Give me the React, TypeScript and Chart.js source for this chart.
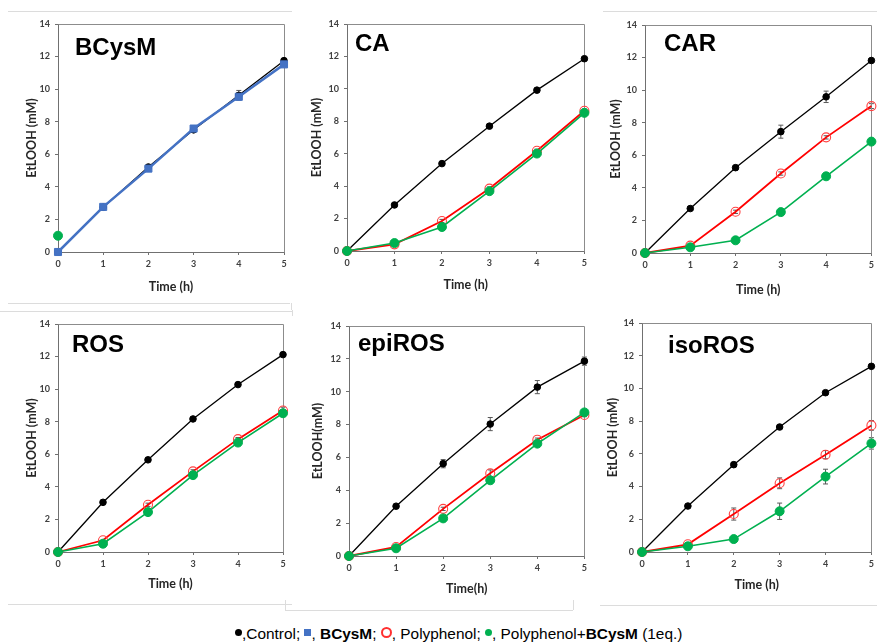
import React, { useEffect, useRef } from "react";
import { Chart, registerables } from "chart.js";

Chart.register(...registerables);

// ---------------- data ----------------
const timeH = [0, 1, 2, 3, 4, 5];
const yTickValues = [0, 2, 4, 6, 8, 10, 12, 14];
const xTickValues = [0, 1, 2, 3, 4, 5];

const panelNames = ["BCysM", "CA", "CAR", "ROS", "epiROS", "isoROS"];
const yAxisTitles = ["EtLOOH (mM)", "EtLOOH (mM)", "EtLOOH (mM)", "EtLOOH (mM)", "EtLOOH(mM)", "EtLOOH (mM)"];
const xAxisTitles = ["Time (h)", "Time (h)", "Time (h)", "Time (h)", "Time(h)", "Time (h)"];

// BCysM panel
const bcysmControl = [0, 2.75, 5.22, 7.5, 9.62, 11.75];
const bcysmControlErr = [0, 0, 0.1, 0.1, 0.3, 0.1];
const bcysmAlone = [0, 2.77, 5.12, 7.58, 9.53, 11.52];
const bcysmGreen = [1.0, null, null, null, null, null];

// CA panel
const caControl = [0, 2.84, 5.39, 7.7, 9.92, 11.86];
const caControlErr = [0, 0, 0, 0, 0.1, 0.1];
const caPoly = [0, 0.41, 1.85, 3.85, 6.18, 8.65];
const caPolyErr = [0, 0, 0.1, 0.1, 0.1, 0.1];
const caPolyB = [0, 0.49, 1.48, 3.69, 6.01, 8.52];
const caPolyBErr = [0, 0, 0, 0.1, 0.1, 0];

// CAR panel
const carControl = [0, 2.73, 5.24, 7.45, 9.59, 11.82];
const carControlErr = [0, 0.1, 0.1, 0.4, 0.35, 0.1];
const carPoly = [0, 0.45, 2.53, 4.88, 7.1, 9.02];
const carPolyErr = [0, 0, 0.1, 0.1, 0.1, 0.15];
const carPolyB = [0, 0.35, 0.78, 2.51, 4.71, 6.84];
const carPolyBErr = [0, 0, 0, 0.1, 0.1, 0.1];

// ROS panel
const rosControl = [0, 3.05, 5.66, 8.17, 10.28, 12.12];
const rosControlErr = [0, 0, 0.1, 0.1, 0.1, 0.1];
const rosPoly = [0, 0.72, 2.9, 4.95, 6.93, 8.69];
const rosPolyErr = [0, 0, 0.1, 0.1, 0.1, 0.2];
const rosPolyB = [0, 0.51, 2.45, 4.72, 6.72, 8.52];
const rosPolyBErr = [0, 0, 0.1, 0.1, 0.1, 0.1];

// epiROS panel
const epiControl = [0, 3.03, 5.62, 8.03, 10.28, 11.86];
const epiControlErr = [0, 0.1, 0.25, 0.4, 0.4, 0.25];
const epiPoly = [0, 0.55, 2.87, 5.04, 7.08, 8.58];
const epiPolyErr = [0, 0, 0.1, 0.2, 0.1, 0.1];
const epiPolyB = [0, 0.47, 2.29, 4.61, 6.84, 8.74];
const epiPolyBErr = [0, 0, 0.1, 0.1, 0.1, 0.1];

// isoROS panel
const isoControl = [0, 2.81, 5.34, 7.64, 9.74, 11.35];
const isoControlErr = [0, 0, 0.1, 0.1, 0.1, 0.1];
const isoPoly = [0, 0.47, 2.32, 4.2, 5.95, 7.74];
const isoPolyErr = [0, 0, 0.37, 0.33, 0.25, 0.3];
const isoPolyB = [0, 0.35, 0.79, 2.49, 4.61, 6.64];
const isoPolyBErr = [0, 0, 0.1, 0.5, 0.45, 0.35];

// legend text
const legendControl = ",Control; ";
const legendBCysM = "BCysM";
const legendPoly = ", Polyphenol; ";
const legendPolyB = ", Polyphenol+";
const legendEq = " (1eq.)";

// ---------------- styles ----------------
type Kind = "control" | "bcysm" | "poly" | "polyB";

const kindStyle: Record<Kind, any> = {
  polyB: {
    borderColor: "#00B050",
    borderWidth: 1.6,
    pointStyle: "circle",
    pointRadius: 4.5,
    pointBackgroundColor: "#00B050",
    pointBorderColor: "#00B050",
    pointBorderWidth: 1,
  },
  poly: {
    borderColor: "#FF0000",
    borderWidth: 1.8,
    pointStyle: "circle",
    pointRadius: 4.5,
    pointBackgroundColor: "rgba(255,255,255,0)",
    pointBorderColor: "#FF4040",
    pointBorderWidth: 1.1,
  },
  bcysm: {
    borderColor: "#4472C4",
    borderWidth: 2.5,
    pointStyle: "rect",
    pointRadius: 5,
    pointBackgroundColor: "#4472C4",
    pointBorderColor: "#4472C4",
    pointBorderWidth: 1,
  },
  control: {
    borderColor: "#000000",
    borderWidth: 1.3,
    pointStyle: "circle",
    pointRadius: 3.3,
    pointBackgroundColor: "#000000",
    pointBorderColor: "#000000",
    pointBorderWidth: 1,
  },
};

type Series = { kind: Kind; values: (number | null)[]; errors: number[] };

type Panel = {
  name: string;
  yTitle: string;
  xTitle: string;
  series: Series[];
  box: [number, number, number, number]; // left, top, width, height (page)
  plot: [number, number, number, number]; // left, top, right, bottom (page)
  yTitleX: number;
  xTitleY: number;
  label: [number, number]; // left, baseline (page)
};

const zeros = [0, 0, 0, 0, 0, 0];

const panels: Panel[] = [
  {
    name: panelNames[0], yTitle: yAxisTitles[0], xTitle: xAxisTitles[0],
    series: [
      { kind: "polyB", values: bcysmGreen, errors: zeros },
      { kind: "bcysm", values: bcysmAlone, errors: zeros },
      { kind: "control", values: bcysmControl, errors: bcysmControlErr },
    ],
    box: [0, 0, 290, 300], plot: [58, 24, 286, 252], yTitleX: 32, xTitleY: 287, label: [75, 55],
  },
  {
    name: panelNames[1], yTitle: yAxisTitles[1], xTitle: xAxisTitles[1],
    series: [
      { kind: "polyB", values: caPolyB, errors: caPolyBErr },
      { kind: "poly", values: caPoly, errors: caPolyErr },
      { kind: "control", values: caControl, errors: caControlErr },
    ],
    box: [290, 0, 300, 300], plot: [347, 24, 589, 251], yTitleX: 317, xTitleY: 285, label: [355, 51],
  },
  {
    name: panelNames[2], yTitle: yAxisTitles[2], xTitle: xAxisTitles[2],
    series: [
      { kind: "polyB", values: carPolyB, errors: carPolyBErr },
      { kind: "poly", values: carPoly, errors: carPolyErr },
      { kind: "control", values: carControl, errors: carControlErr },
    ],
    box: [590, 0, 287, 300], plot: [645, 25, 876, 253], yTitleX: 616, xTitleY: 290, label: [664, 51],
  },
  {
    name: panelNames[3], yTitle: yAxisTitles[3], xTitle: xAxisTitles[3],
    series: [
      { kind: "polyB", values: rosPolyB, errors: rosPolyBErr },
      { kind: "poly", values: rosPoly, errors: rosPolyErr },
      { kind: "control", values: rosControl, errors: rosControlErr },
    ],
    box: [0, 310, 290, 295], plot: [58, 324, 283, 552], yTitleX: 32, xTitleY: 584, label: [72, 352],
  },
  {
    name: panelNames[4], yTitle: yAxisTitles[4], xTitle: xAxisTitles[4],
    series: [
      { kind: "polyB", values: epiPolyB, errors: epiPolyBErr },
      { kind: "poly", values: epiPoly, errors: epiPolyErr },
      { kind: "control", values: epiControl, errors: epiControlErr },
    ],
    box: [290, 310, 300, 295], plot: [349, 326, 585, 556], yTitleX: 318, xTitleY: 589, label: [358, 351],
  },
  {
    name: panelNames[5], yTitle: yAxisTitles[5], xTitle: xAxisTitles[5],
    series: [
      { kind: "polyB", values: isoPolyB, errors: isoPolyBErr },
      { kind: "poly", values: isoPoly, errors: isoPolyErr },
      { kind: "control", values: isoControl, errors: isoControlErr },
    ],
    box: [590, 310, 287, 295], plot: [642, 323, 874, 552], yTitleX: 613, xTitleY: 585, label: [668, 353],
  },
];

const axisFontFamily = "Lato, 'Open Sans', 'Liberation Sans', sans-serif";
const titleFontSize = 12.5;
const titleLineHeight = 1.2;

// ---------------- plugins ----------------
const errorBarPlugin = {
  id: "errorBars",
  beforeDatasetsDraw(chart: any) {
    const ctx = chart.ctx;
    const xs = chart.scales.x;
    const ys = chart.scales.y;
    ctx.save();
    ctx.strokeStyle = "#595959";
    ctx.lineWidth = 1;
    chart.data.datasets.forEach((ds: any) => {
      const errs: number[] = ds.errors || [];
      ds.data.forEach((pt: any, i: number) => {
        const e = errs[i];
        if (!e || pt.y == null) return;
        const x = xs.getPixelForValue(pt.x);
        const y1 = ys.getPixelForValue(pt.y + e);
        const y2 = ys.getPixelForValue(pt.y - e);
        ctx.beginPath();
        ctx.moveTo(x, y1);
        ctx.lineTo(x, y2);
        ctx.moveTo(x - 2.5, y1);
        ctx.lineTo(x + 2.5, y1);
        ctx.moveTo(x - 2.5, y2);
        ctx.lineTo(x + 2.5, y2);
        ctx.stroke();
      });
    });
    ctx.restore();
  },
};

const framePlugin = {
  id: "frame",
  beforeDatasetsDraw(chart: any) {
    const { ctx, chartArea } = chart;
    ctx.save();
    ctx.strokeStyle = "#8c8c8c";
    ctx.lineWidth = 1;
    ctx.beginPath();
    ctx.moveTo(Math.round(chartArea.left) + 0.5, Math.round(chartArea.top) + 0.5);
    ctx.lineTo(Math.round(chartArea.right) + 0.5, Math.round(chartArea.top) + 0.5);
    ctx.lineTo(Math.round(chartArea.right) + 0.5, Math.round(chartArea.bottom) + 0.5);
    ctx.stroke();
    ctx.restore();
  },
};

const panelLabelPlugin = {
  id: "panelLabel",
  afterDraw(chart: any, _args: any, opts: any) {
    const ctx = chart.ctx;
    ctx.save();
    ctx.fillStyle = "#000";
    ctx.font = "bold 24px 'Liberation Sans', Arial, sans-serif";
    ctx.textBaseline = "alphabetic";
    ctx.textAlign = "left";
    ctx.fillText(opts.text, opts.x, opts.y);
    ctx.restore();
  },
};

// ---------------- component ----------------
function PanelChart({ panel }: { panel: Panel }) {
  const ref = useRef<HTMLCanvasElement | null>(null);
  useEffect(() => {
    if (!ref.current) return;
    const [bl, bt, bw, bh] = panel.box;
    const [pl, pt, pr, pb] = panel.plot;
    const yWidth = pl - bl;
    const xHeight = bt + bh - pb;
    const lh = titleFontSize * titleLineHeight;
    const yTitlePad = panel.yTitleX - bl - lh / 2;
    const xTitlePad = bt + bh - panel.xTitleY - lh / 2;

    const datasets = panel.series.map((s) => ({
      ...kindStyle[s.kind],
      data: s.values.map((v, i) => ({ x: timeH[i], y: v })),
      errors: s.errors,
      fill: false,
      tension: 0,
      clip: false,
      showLine: true,
      spanGaps: false,
    }));

    const tickFont = { family: axisFontFamily, size: 9, weight: "bold" as const };
    const titleFont = { family: axisFontFamily, size: titleFontSize, weight: "bold" as const, lineHeight: titleLineHeight };

    const chart = new Chart(ref.current, {
      type: "line",
      data: { datasets: datasets as any },
      plugins: [errorBarPlugin, framePlugin, panelLabelPlugin],
      options: {
        animation: false,
        responsive: false,
        maintainAspectRatio: false,
        devicePixelRatio: 1,
        layout: { padding: { top: pt - bt, right: bl + bw - pr, left: 0, bottom: 0 } },
        plugins: {
          legend: { display: false },
          tooltip: { enabled: false },
          panelLabel: { text: panel.name, x: panel.label[0] - bl, y: panel.label[1] - bt },
        } as any,
        scales: {
          x: {
            type: "linear",
            min: 0,
            max: 5,
            afterBuildTicks: (s: any) => {
              s.ticks = xTickValues.map((v) => ({ value: v }));
            },
            afterFit: (s: any) => {
              s.height = xHeight;
              s.paddingLeft = 0;
              s.paddingRight = 0;
            },
            grid: { drawOnChartArea: false, drawTicks: true, tickLength: 3, color: "#707070" },
            border: { display: true, color: "#707070", width: 1 },
            ticks: { font: tickFont, color: "#404040", padding: 4, maxRotation: 0, autoSkip: false },
            title: { display: true, text: panel.xTitle, font: titleFont, color: "#262626", padding: { top: 0, bottom: xTitlePad } },
          },
          y: {
            type: "linear",
            min: 0,
            max: 14,
            afterBuildTicks: (s: any) => {
              s.ticks = yTickValues.map((v) => ({ value: v }));
            },
            afterFit: (s: any) => {
              s.width = yWidth;
              s.paddingTop = 0;
              s.paddingBottom = 0;
            },
            grid: { drawOnChartArea: false, drawTicks: true, tickLength: 3, color: "#707070" },
            border: { display: true, color: "#707070", width: 1 },
            ticks: { font: tickFont, color: "#404040", padding: 5, autoSkip: false },
            title: { display: true, text: panel.yTitle, font: titleFont, color: "#262626", padding: { top: yTitlePad, bottom: 0 } },
          },
        },
      } as any,
    });
    return () => chart.destroy();
  }, [panel]);

  const [bl, bt, bw, bh] = panel.box;
  return (
    <canvas
      ref={ref}
      width={bw}
      height={bh}
      style={{ position: "absolute", left: bl, top: bt, width: bw, height: bh, display: "block" }}
    />
  );
}

const hLine = (left: number, top: number, width: number): React.CSSProperties => ({
  position: "absolute", left, top, width, height: 0, borderTop: "1px solid #dcdcdc",
});
const vLine = (left: number, top: number, height: number): React.CSSProperties => ({
  position: "absolute", left, top, width: 0, height, borderLeft: "1px solid #dcdcdc",
});

export default function App() {
  const dot = (color: string, size: number): React.CSSProperties => ({
    display: "inline-block", width: size, height: size, borderRadius: "50%", background: color,
    verticalAlign: "middle", position: "relative", top: -2,
  });
  return (
    <div style={{ position: "absolute", left: 0, top: 0, width: 877, height: 644, background: "#fff", overflow: "hidden" }}>
      <div style={hLine(8, 11, 284)} />
      <div style={hLine(603, 11, 274)} />
      <div style={hLine(8, 303, 282)} />
      <div style={vLine(291, 303, 7)} />
      <div style={hLine(0, 311, 292)} />
      <div style={vLine(292, 310, 6)} />
      <div style={hLine(8, 604, 284)} />
      <div style={hLine(600, 605, 277)} />
      <div style={hLine(285, 610, 288)} />
      <div style={vLine(285, 600, 10)} />
      <div style={vLine(573, 600, 10)} />
      {panels.map((p) => (
        <PanelChart key={p.name} panel={p} />
      ))}
      <div
        style={{
          position: "absolute", left: 235, top: 624, whiteSpace: "nowrap",
          fontFamily: "'Liberation Sans', Arial, sans-serif", fontSize: 15.4, lineHeight: "20px", color: "#000",
        }}
      >
        <span style={dot("#000", 7)} />
        {legendControl}
        <span style={{ display: "inline-block", width: 7, height: 7, background: "#4472C4", verticalAlign: "middle", position: "relative", top: -2 }} />
        {", "}
        <b>{legendBCysM}</b>
        {"; "}
        <span
          style={{
            display: "inline-block", width: 7, height: 7, borderRadius: "50%", border: "2px solid #FF3030",
            verticalAlign: "middle", position: "relative", top: -2, boxSizing: "content-box",
          }}
        />
        {legendPoly}
        <span style={dot("#00B050", 7)} />
        {legendPolyB}
        <b>{legendBCysM}</b>
        {legendEq}
      </div>
    </div>
  );
}
